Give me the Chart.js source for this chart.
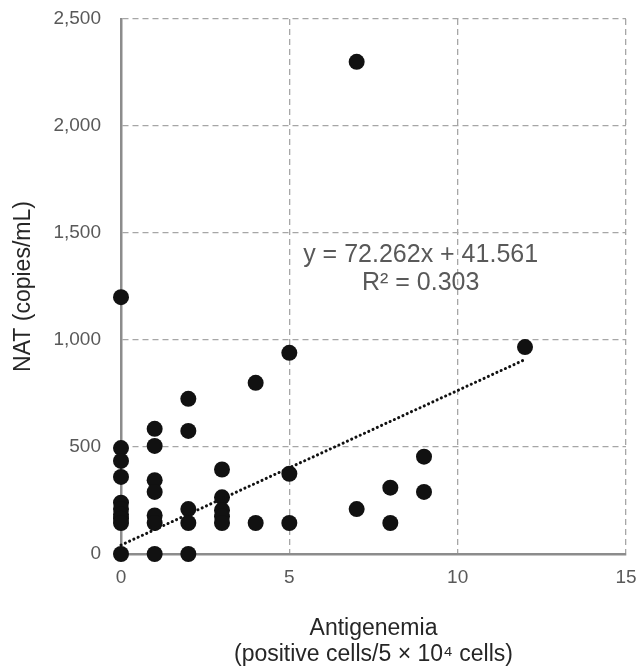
<!DOCTYPE html>
<html>
<head>
<meta charset="utf-8">
<script src="https://cdn.jsdelivr.net/npm/chart.js@4"></script>
<style>
  html, body { margin: 0; padding: 0; background: #fff; }
  #wrap { width: 641px; height: 667px; }
</style>
</head>
<body>
<div id="wrap"><canvas id="chart1"></canvas></div>
<script>
// antigenemia (positive cells / 5x10^4 cells) vs NAT (copies/mL)
var antigenemia = [0, 0, 0, 0, 0, 0, 0, 0, 0, 0,
                   1, 1, 1, 1, 1, 1, 1,
                   2, 2, 2, 2, 2,
                   3, 3, 3, 3, 3,
                   4, 4,
                   5, 5, 5,
                   7, 7,
                   8, 8,
                   9, 9,
                   12];
var nat = [1200, 495, 435, 360, 240, 210, 185, 165, 145, 0,
           585, 505, 345, 290, 180, 145, 0,
           725, 575, 210, 145, 0,
           395, 265, 205, 175, 145,
           800, 145,
           940, 375, 145,
           2300, 210,
           310, 145,
           455, 290,
           967];
var xTicks = [0, 5, 10, 15];
var yTicks = [0, 500, 1000, 1500, 2000, 2500];
// linear trendline as printed on the chart
var trendSlope = 72.262;
var trendIntercept = 41.561;
var trendRange = [0, 12];
var trendLabel = ['y = 72.262x + 41.561', 'R\u00b2 = 0.303'];

var points = antigenemia.map(function(x, i) { return { x: x, y: nat[i] }; });
var trend = trendRange.map(function(x) { return { x: x, y: trendSlope * x + trendIntercept }; });

var FONT = "'Liberation Sans', Arial, sans-serif";

var equationText = {
    id: 'equationText',
    afterDraw: function(chart) {
        var ctx = chart.ctx;
        var x = chart.scales.x.getPixelForValue(8.9);
        var y = chart.scales.y.getPixelForValue(1395);
        ctx.save();
        ctx.fillStyle = '#595959';
        ctx.font = '25px ' + FONT;
        ctx.textAlign = 'center';
        ctx.textBaseline = 'middle';
        ctx.fillText(trendLabel[0], x, y);
        ctx.fillText(trendLabel[1], x, y + 28);
        ctx.restore();
    }
};

var ctx = document.getElementById('chart1');
var myChart = new Chart(ctx, {
    type: 'scatter',
    data: {
        datasets: [{
            label: 'NAT',
            data: points,
            backgroundColor: '#111111',
            borderColor: '#111111',
            pointRadius: 8,
            pointHoverRadius: 8,
            borderWidth: 0,
            clip: false,
            order: 2
        }, {
            type: 'line',
            label: 'Linear',
            data: trend,
            borderColor: '#111111',
            borderWidth: 3,
            borderDash: [0.1, 4.6],
            borderCapStyle: 'round',
            pointRadius: 0,
            fill: false,
            clip: false,
            order: 1
        }]
    },
    options: {
        responsive: true,
        maintainAspectRatio: false,
        animation: false,
        layout: {
            padding: { left: 0, right: 15, top: 19, bottom: 0 }
        },
        plugins: {
            legend: { display: false },
            tooltip: { enabled: false }
        },
        scales: {
            x: {
                type: 'linear',
                min: 0,
                max: 15,
                afterBuildTicks: function(scale) {
                    scale.ticks = xTicks.map(function(v) { return { value: v }; });
                },
                afterFit: function(scale) {
                    scale.height = 113;
                    scale.paddingLeft = 0;
                    scale.paddingRight = 0;
                },
                grid: { color: '#a6a6a6', lineWidth: 1.3, drawTicks: false },
                border: { display: true, color: '#8c8c8c', width: 2.5, dash: [6, 4] },
                ticks: {
                    color: '#595959',
                    padding: 12,
                    font: { family: FONT, size: 19 }
                },
                title: {
                    display: true,
                    text: ['Antigenemia', '(positive cells/5 \u00d7 10\u2074 cells)'],
                    color: '#262626',
                    padding: 0,
                    font: { family: FONT, size: 23, lineHeight: 1.1 }
                }
            },
            y: {
                type: 'linear',
                min: 0,
                max: 2500,
                afterBuildTicks: function(scale) {
                    scale.ticks = yTicks.map(function(v) { return { value: v }; });
                },
                afterFit: function(scale) {
                    scale.width = 121;
                    scale.paddingTop = 0;
                    scale.paddingBottom = 0;
                },
                grid: { color: '#a6a6a6', lineWidth: 1.3, drawTicks: false },
                border: { display: true, color: '#8c8c8c', width: 2.5, dash: [6, 4] },
                ticks: {
                    color: '#595959',
                    padding: 20,
                    font: { family: FONT, size: 19 },
                    callback: function(v) { return v.toLocaleString('en-US'); }
                },
                title: {
                    display: true,
                    text: 'NAT (copies/mL)',
                    color: '#262626',
                    padding: { top: 10, bottom: 0 },
                    font: { family: FONT, size: 23, lineHeight: 1.2 }
                }
            }
        }
    },
    plugins: [equationText]
});
</script>
</body>
</html>
